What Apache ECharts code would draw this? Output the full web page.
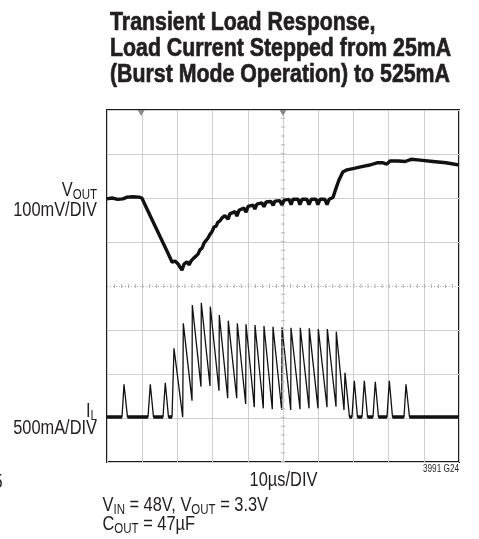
<!DOCTYPE html>
<html><head><meta charset="utf-8">
<script src="https://cdn.jsdelivr.net/npm/echarts@6/dist/echarts.min.js"></script>
<style>html,body{margin:0;padding:0;background:#fff}#c{width:479px;height:539px}</style>
</head><body><div id="c"></div>
<script>
// ---- data (time in µs, VOUT deviation in mV, IL in mA above the 25mA level) ----
const timeRange = [0, 100];          // 10 µs/DIV, 10 divisions
const voutRange = [-600, 200];       // 100 mV/DIV, 8 divisions
const ilRange = [-500, 3500];        // 500 mA/DIV, 8 divisions

const voutData = [
[0,-2],[1.4,0],[3.1,-3],[4.5,-2],[5.7,2],[7.4,3],[9.1,2],[9.9,0],
[12.2,-39],[15.1,-88],[17.3,-125],[18.5,-146],[19.3,-143],[20.2,-150],[20.7,-148],[21.3,-164],[21.9,-150],[22.7,-145],[23.3,-152],[23.9,-143],[24.7,-136],[25.3,-132],[25.9,-127],[26.4,-118],[27.0,-114],[27.6,-102],[28.1,-98],[28.7,-91],[29.3,-82],[29.8,-77],[30.4,-66],[31.0,-64],[31.5,-55],[32.1,-52],[32.7,-45],
[33.5,-40],[34.4,-48],[34.9,-36],[36.4,-31],[36.9,-41],[37.5,-28],[38.9,-23],[39.5,-32],[40.1,-19],[41.5,-16],[42.0,-25],[42.6,-14],[44.0,-11],[44.6,-20],[45.2,-9],[46.6,-8],[47.2,-17],[47.7,-7],[49.1,-6],[49.7,-16],[50.3,-5],[51.7,-3],[52.3,-15],[52.8,-3],[54.3,-3],[54.8,-15],[55.4,-3],[56.8,-3],[57.4,-15],[58.0,-3],[59.4,-3],[59.9,-15],[60.5,-3],[61.9,-3],[62.5,-15],[63.1,-3],[64.2,1],
[65.1,23],[65.9,41],[67.0,59],[68.2,64],[70.5,68],[72.7,72],[74.7,75],[76.7,80],[78.4,80],[79.5,77],[80.4,84],[82.7,84],[84.7,83],[86.4,88],[88.9,86],[92.6,83],[96.3,80],[100,75]
];

const ilData = [
[0,10],[4.26,10],[4.83,383],[5.82,10],[11.65,10],[12.30,383],[13.21,10],[15.91,10],[16.56,401],[17.47,10],[18.47,10],[19.03,792],[21.51,10],[21.68,1076],[24.15,197],[24.23,1284],[26.70,356],[26.79,1310],[29.26,364],[29.35,1265],[31.82,310],[31.90,1170],[34.29,224],[34.46,1106],[36.85,224],[37.02,1076],[39.40,159],[39.49,1065],[41.85,122],[42.05,1057],[44.40,110],[44.60,1045],[46.96,99],[47.16,1037],[49.63,91],[49.72,1031],[52.19,91],[52.27,1026],[54.83,99],[54.91,1026],[57.39,110],[57.47,1019],[59.94,110],[60.03,1011],[62.50,122],[62.59,1011],[65.06,128],[65.14,981],[67.33,91],[67.61,515],[68.89,10],[69.60,10],[70.26,424],[71.16,10],[72.44,10],[73.10,424],[74.01,10],[75.57,10],[76.22,412],[77.13,10],[79.55,10],[80.20,424],[81.11,10],[84.38,10],[84.94,383],[85.94,10],[100,10]
];

// stretches where the inductor current sits at the (noisy) light-load level
const ilBaselineSpans = [[0,4.26],[5.82,11.65],[13.21,15.91],[17.47,18.47],[68.89,69.60],[71.16,72.44],[74.01,75.57],[77.13,79.55],[81.11,84.38],[85.94,100]];
const ilBaselineLevel = 10;

const triggerMarks = [9.7, 50];

const titleLines = ['Transient Load Response,', 'Load Current Stepped from 25mA', '(Burst Mode Operation) to 525mA'];

// ---- rendering ----
const FAM = "'Liberation Sans',Arimo,Arial,sans-serif";
const SX = 0.82;   // condensed face
const cv = document.createElement('canvas').getContext('2d');
function tw(t, size, weight) { cv.font = (weight||'normal') + ' ' + size + 'px ' + FAM; return cv.measureText(t).width * SX; }
function txt(t, x, y, size, align, weight, heavy) {
  const style = { text:t, x:0, y:0, font:(weight||'normal')+' '+size+'px '+FAM, fill:'#231f20', align:align||'left', verticalAlign:'middle' };
  if (heavy) { style.stroke = '#231f20'; style.lineWidth = 0.7; }
  return { type:'text', x:x, y:y, scaleX:SX, scaleY:1, silent:true, style:style };
}
// parts: [text, isSub]
function run(parts, x, y, align, size, subSize) {
  const widths = parts.map(p => tw(p[0], p[1] ? subSize : size));
  const total = widths.reduce((a,b)=>a+b,0);
  let cx = align === 'right' ? x - total : (align === 'center' ? x - total/2 : x);
  const out = [];
  parts.forEach((p,i) => { out.push(txt(p[0], cx, p[1] ? y + size*0.24 : y, p[1] ? subSize : size, 'left')); cx += widths[i]; });
  return out;
}

const graphics = [];
titleLines.forEach((l,i) => graphics.push(txt(l, 110, 22.5 + i*26.2, 26, 'left', 'bold', true)));
graphics.push(...run([['V',0],['OUT',1]], 97, 190, 'right', 20, 14));
graphics.push(txt('100mV/DIV', 97, 210.5, 20, 'right'));
graphics.push(...run([['I',0],['L',1]], 97, 411, 'right', 20, 14));
graphics.push(txt('500mA/DIV', 97, 428.5, 20, 'right'));
graphics.push(txt('10µs/DIV', 283.5, 480.5, 20, 'center'));
graphics.push(txt('3991 G24', 459, 469, 10, 'right'));
graphics.push(txt('5', 2.5, 482, 20, 'right'));
const line1 = [['V',0],['IN',1],[' = 48V, V',0],['OUT',1],[' = 3.3V',0]];
const w1 = line1.reduce((a,p)=>a+tw(p[0], p[1]?14:20),0);
const leftX = 268 - w1;
graphics.push(...run(line1, leftX, 505.5, 'left', 20, 14));
graphics.push(...run([['C',0],['OUT',1],[' = 47µF',0]], leftX, 524, 'left', 20, 14));

const baselineSeries = [];
ilBaselineSpans.forEach(s => { baselineSeries.push([s[0], ilBaselineLevel], [s[1], ilBaselineLevel], [null, null]); });

const grid = '#cfcfcf';
const splitColors = [grid, grid, grid, grid, 'rgba(0,0,0,0)', grid, grid, grid, grid];

const chart = echarts.init(document.getElementById('c'), null, {renderer:'canvas'});
chart.setOption({
  animation:false,
  backgroundColor:'#fff',
  grid:{ left:107, top:110, width:352, height:352, show:true, borderColor:'#1a1a1a', borderWidth:2, backgroundColor:'transparent' },
  xAxis:{ type:'value', min:timeRange[0], max:timeRange[1], interval:10,
    axisLine:{show:false}, axisTick:{show:false}, axisLabel:{show:false},
    splitLine:{show:true, lineStyle:{color:grid, width:1}} },
  yAxis:[
    { type:'value', min:voutRange[0], max:voutRange[1], interval:100,
      axisLine:{show:false}, axisTick:{show:false}, axisLabel:{show:false},
      splitLine:{show:true, lineStyle:{color:splitColors, width:1}} },
    { type:'value', min:ilRange[0], max:ilRange[1], interval:500, show:false, splitLine:{show:false} }
  ],
  graphic: graphics,
  series:[
    { type:'line', name:'grid-marks', data:[], z:1, silent:true,
      markLine:{ silent:true, symbol:'none', label:{show:false}, animation:false,
        data:[
          { yAxis:-200, lineStyle:{type:[1,2], color:'#b0b0b0', width:1} },
          { yAxis:-200, lineStyle:{type:[1,6.04], color:'#b0b0b0', width:4} },
          { xAxis:50, lineStyle:{type:[1,7.8], color:'#b8b8b8', width:4} }
        ] },
      markPoint:{ silent:true, symbol:'triangle', symbolRotate:180, symbolSize:[7,6], symbolOffset:[0,3],
        itemStyle:{color:'#8a8a8a'}, label:{show:false},
        data: triggerMarks.map(t => ({coord:[t, voutRange[1]]})) } },
    { type:'line', name:'VOUT', data:voutData, yAxisIndex:0, showSymbol:false, z:3,
      lineStyle:{color:'#111', width:3.4}, silent:true },
    { type:'line', name:'IL', data:ilData, yAxisIndex:1, showSymbol:false, z:3,
      lineStyle:{color:'#111', width:1.3}, silent:true },
    { type:'line', name:'IL noise band', data:baselineSeries, yAxisIndex:1, showSymbol:false, z:3, connectNulls:false,
      lineStyle:{color:'#111', width:3.5}, silent:true }
  ]
});
</script>
</body></html>
